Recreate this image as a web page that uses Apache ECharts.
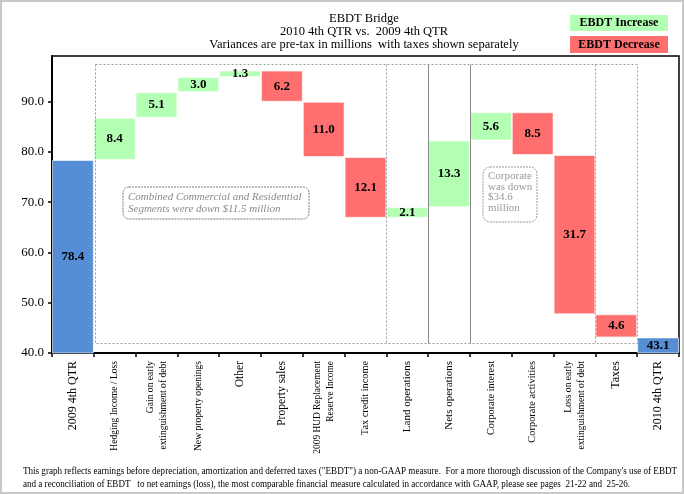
<!DOCTYPE html>
<html><head><meta charset="utf-8">
<script src="https://cdn.jsdelivr.net/npm/echarts@6/dist/echarts.min.js"></script>
<style>html,body{margin:0;padding:0;background:#fff}#c{width:684px;height:494px}</style>
</head><body><div id="c"></div>
<script>
var categories = ['2009 4th QTR','Hedging Income / Loss','Gain on early\nextinguishment of debt','New property openings','Other','Property sales','2009 HUD Replacement\nReserve Income','Tax credit income','Land operations','Nets operations','Corporate interest','Corporate activities','Loss on early\nextinguishment of debt','Taxes','2010 4th QTR'];
var startValue = 78.4;
var changes = [8.4, 5.1, 3.0, 1.3, -6.2, -11.0, -12.1, 2.1, 13.3, 5.6, -8.5, -31.7, -4.6];
var endValue = 43.1;
var yTicks = {min: 40, max: 99.1, interval: 10};

// label font sizes (the source squeezes its long labels)
var labelSizes = [12, 9.6, 9.6, 9.6, 11.5, 11.5, 9.4, 10.3, 11, 11, 10.3, 10.4, 9.6, 12, 12];

var COL_TOTAL = '#558ED5', COL_UP = '#B3FFB3', COL_DOWN = '#FF6F6F';
var FONT = '"Liberation Serif", "Times New Roman", serif';

var baseData = [], barData = [];
baseData.push(0);
barData.push({value: startValue, itemStyle: {color: COL_TOTAL}, lab: startValue});
var running = startValue;
changes.forEach(function (c) {
  var lo = c >= 0 ? running : running + c;
  baseData.push(+lo.toFixed(2));
  barData.push({value: Math.abs(c), itemStyle: {color: c >= 0 ? COL_UP : COL_DOWN}, lab: Math.abs(c)});
  running = running + c;
});
baseData.push(0);
barData.push({value: endValue, itemStyle: {color: COL_TOTAL}, lab: endValue});

var xData = categories.map(function (c, i) {
  return {value: c, textStyle: {fontSize: labelSizes[i], lineHeight: 13}};
});

var chart = echarts.init(document.getElementById('c'), null, {renderer: 'canvas'});
var option = {
  animation: false,
  grid: {left: 52, right: 5, top: 56, bottom: 141, show: true, borderColor: '#000', borderWidth: 1.5, backgroundColor: 'transparent'},
  xAxis: {
    type: 'category', data: xData,
    axisLine: {lineStyle: {color: '#000', width: 2}},
    axisTick: {show: true, inside: false, length: 4, lineStyle: {color: '#000', width: 1.5}},
    axisLabel: {rotate: 90, interval: 0, margin: 8, fontFamily: FONT, fontSize: 11.5, color: '#000', lineHeight: 13}
  },
  yAxis: {
    type: 'value', min: yTicks.min, max: yTicks.max, interval: yTicks.interval,
    axisLine: {show: true, lineStyle: {color: '#000', width: 2}},
    axisTick: {show: true, inside: false, length: 4, lineStyle: {color: '#000', width: 1.5}},
    splitLine: {show: false},
    axisLabel: {showMaxLabel: false, margin: 8, fontFamily: FONT, fontSize: 13, color: '#000', formatter: function (v) { return v.toFixed(1); }}
  },
  series: [
    {type: 'bar', stack: 'w', data: baseData, itemStyle: {color: 'transparent'}, barWidth: '100%', silent: true},
    {type: 'bar', stack: 'w', data: barData, barWidth: '100%',
      itemStyle: {borderColor: 'rgba(255,255,255,0.6)', borderWidth: 1},
      label: {show: true, position: 'inside', fontFamily: FONT, fontSize: 13, fontWeight: 'bold', color: '#000',
        formatter: function (p) { return p.data.lab.toFixed(1); }}}
  ],
  graphic: [
    {type: 'rect', shape: {x: 1, y: 1, width: 682, height: 492}, style: {fill: null, stroke: '#C8C8C8', lineWidth: 2}, silent: true},
    {type: 'rect', shape: {x: 95.5, y: 64.5, width: 542, height: 279}, style: {fill: null, stroke: '#999', lineWidth: 1, lineDash: [2, 2]}, z: 10},
    {type: 'line', shape: {x1: 386.5, y1: 64.5, x2: 386.5, y2: 343.5}, style: {stroke: '#999', lineWidth: 1, lineDash: [2, 2]}, z: 10},
    {type: 'line', shape: {x1: 428.5, y1: 64.5, x2: 428.5, y2: 343.5}, style: {stroke: '#888', lineWidth: 1}, z: 10},
    {type: 'line', shape: {x1: 470.5, y1: 64.5, x2: 470.5, y2: 343.5}, style: {stroke: '#888', lineWidth: 1}, z: 10},
    {type: 'line', shape: {x1: 595.5, y1: 64.5, x2: 595.5, y2: 343.5}, style: {stroke: '#999', lineWidth: 1, lineDash: [2, 2]}, z: 10},
    {type: 'rect', shape: {x: 123, y: 187, width: 186, height: 32, r: 6}, style: {fill: '#fff', stroke: '#777', lineWidth: 1, lineDash: [2, 1]}, z: 11},
    {type: 'text', x: 128, y: 191, style: {text: 'Combined Commercial and Residential\nSegments were down $11.5 million', fontFamily: FONT, fontSize: 11, fontStyle: 'italic', fill: '#8a8a8a', lineHeight: 12}, z: 12},
    {type: 'rect', shape: {x: 483, y: 167, width: 54, height: 55, r: 7}, style: {fill: '#fff', stroke: '#999', lineWidth: 1, lineDash: [2, 1]}, z: 11},
    {type: 'text', x: 488, y: 171, style: {text: 'Corporate\nwas down\n$34.6\nmillion', fontFamily: FONT, fontSize: 11, fill: '#999', lineHeight: 10.5}, z: 12},
    {type: 'rect', shape: {x: 570, y: 15, width: 98, height: 16}, style: {fill: COL_UP}},
    {type: 'text', x: 619, y: 23, style: {text: 'EBDT Increase', fontFamily: FONT, fontSize: 12, fontWeight: 'bold', fill: '#000', align: 'center', verticalAlign: 'middle'}},
    {type: 'rect', shape: {x: 570, y: 36, width: 98, height: 17}, style: {fill: COL_DOWN}},
    {type: 'text', x: 619, y: 44.5, style: {text: 'EBDT Decrease', fontFamily: FONT, fontSize: 12, fontWeight: 'bold', fill: '#000', align: 'center', verticalAlign: 'middle'}},
    {type: 'text', x: 364, y: 12, style: {text: 'EBDT Bridge\n2010 4th QTR vs.  2009 4th QTR\nVariances are pre-tax in millions  with taxes shown separately', fontFamily: FONT, fontSize: 12.5, fill: '#000', align: 'center', lineHeight: 13}},
    {type: 'text', x: 21, y: 465, scaleX: 0.91, originX: 21, originY: 465, style: {text: 'This graph reflects earnings before depreciation, amortization and deferred taxes ("EBDT") a non-GAAP measure.  For a more thorough discussion of the Company\'s use of EBDT\nand a reconciliation of EBDT   to net earnings (loss), the most comparable financial measure calculated in accordance with GAAP, please see pages  21-22 and  25-26.', fontFamily: FONT, fontSize: 10, fill: '#000', lineHeight: 13}}
  ]
};
chart.setOption(option);
</script>
</body></html>
